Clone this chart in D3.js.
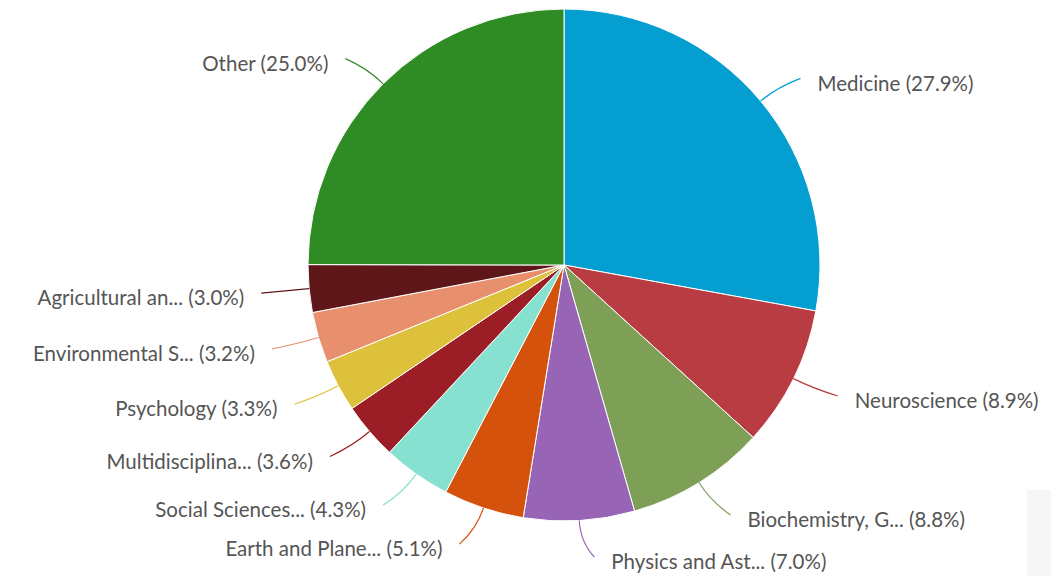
<!DOCTYPE html>
<html>
<head>
<meta charset="utf-8">
<script src="https://cdn.jsdelivr.net/npm/d3@7"></script>
<style>
  body { margin: 0; background: #fff; }
  text { font-family: Lato, "Open Sans", sans-serif; }
</style>
</head>
<body>
<div id="chart"></div>
<script>
// data, clockwise from 12 o'clock
var subjects = ["Medicine", "Neuroscience", "Biochemistry, G...", "Physics and Ast...", "Earth and Plane...",
  "Social Sciences...", "Multidisciplina...", "Psychology", "Environmental S...", "Agricultural an...", "Other"];
var shares = [27.9, 8.9, 8.8, 7.0, 5.1, 4.3, 3.6, 3.3, 3.2, 3.0, 25.0];
var colors = ["#049fd0", "#b93c42", "#7e9f56", "#9864b6", "#d5520d", "#86e1d0",
  "#9b1d25", "#ddc13a", "#e8906e", "#5e1619", "#2f8b23"];

var width = 1051, height = 576;
var cx = 564, cy = 265, r = 256;

var svg = d3.select("#chart").append("svg")
  .attr("width", width)
  .attr("height", height);

// faint grey block in lower right corner of the screenshot
svg.append("rect")
  .attr("x", 1027).attr("y", 490)
  .attr("width", 24).attr("height", 86)
  .attr("fill", "#f6f6f6");

var data = subjects.map(function(s, i) { return {name: s, value: shares[i], color: colors[i]}; });

var pie = d3.pie().sort(null).value(d => d.value);
var arc = d3.arc().innerRadius(0).outerRadius(r);
var arcs = pie(data);

var g = svg.append("g").attr("transform", `translate(${cx}, ${cy})`);

g.selectAll("path.slice")
  .data(arcs)
  .enter()
  .append("path")
    .attr("class", "slice")
    .attr("d", arc)
    .attr("fill", d => d.data.color)
    .attr("stroke", "#fff")
    .attr("stroke-width", 1);

// labels + connectors
arcs.forEach(function(d) {
  var a = (d.startAngle + d.endAngle) / 2;
  var s = Math.sin(a), c = Math.cos(a);
  var right = s >= 0, dir = right ? 1 : -1;
  var x0 = r * s, y0 = -r * c;
  var ty = Math.min(6 - (r + 37) * c, height - cy - 14);   // label centre
  var tx = (r + 35) * s + dir * 30;
  var x1 = tx - dir * 17, y1 = ty - 5;                      // connector end
  var xc = (r + 22) * s, yc = -(r + 22) * c;

  g.append("path")
    .attr("d", `M${x0},${y0} Q${xc},${yc} ${x1},${y1}`)
    .attr("fill", "none")
    .attr("stroke", d.data.color)
    .attr("stroke-width", 1.2);

  g.append("text")
    .attr("x", tx)
    .attr("y", ty)
    .attr("dy", "0.35em")
    .attr("text-anchor", right ? "start" : "end")
    .attr("font-size", 20.5)
    .attr("fill", "#555")
    .text(d.data.name + " (" + d.data.value.toFixed(1) + "%)");
});
</script>
</body>
</html>
